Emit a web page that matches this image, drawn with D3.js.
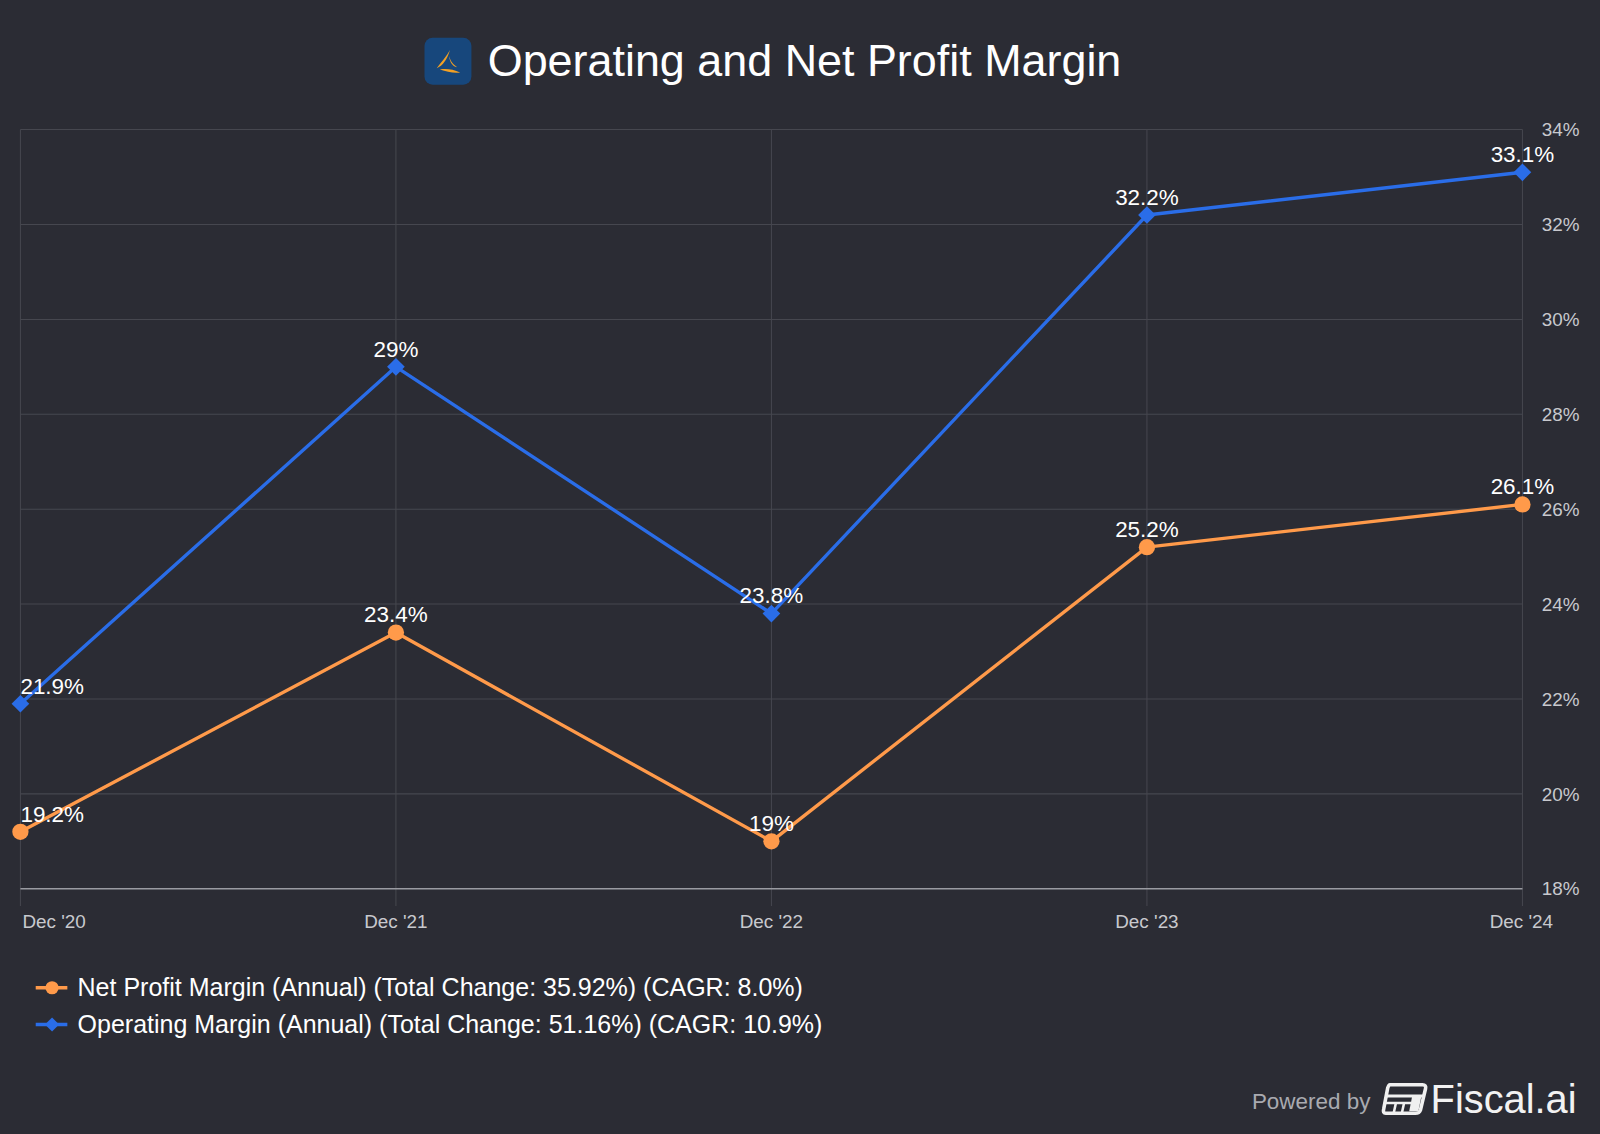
<!DOCTYPE html>
<html>
<head>
    <meta charset="utf-8" />
    <title>Operating and Net Profit Margin</title>
    <script src="https://d3js.org/d3.v7.min.js"></script>
    <style>
    body {
        margin: 0;
        background: #2b2c34;
        font-family: "Liberation Sans", Arial, sans-serif;
    }
    svg text { font-family: "Liberation Sans", Arial, sans-serif; }
    </style>
</head>
<body>
    <div id="chart"></div>
    <script>
        // data
        var periods = ["Dec '20", "Dec '21", "Dec '22", "Dec '23", "Dec '24"];
        var netMargin = [19.2, 23.4, 19.0, 25.2, 26.1];
        var opMargin = [21.9, 29.0, 23.8, 32.2, 33.1];
        var yTicks = [18, 20, 22, 24, 26, 28, 30, 32, 34];
        var legendLabels = [
            "Net Profit Margin (Annual) (Total Change: 35.92%) (CAGR: 8.0%)",
            "Operating Margin (Annual) (Total Change: 51.16%) (CAGR: 10.9%)"
        ];

        var W = 1600, H = 1134;
        var orange = "#ff9a4a", blue = "#2a6de8";

        var svg = d3.select("#chart").append("svg")
            .attr("width", W).attr("height", H);

        svg.append("rect").attr("width", W).attr("height", H).attr("fill", "#2b2c34");

        // layout was measured on a 1568 wide copy, so scale it up
        var root = svg.append("g").attr("transform", "scale(" + (1600 / 1568) + ")");

        var x = d3.scalePoint().domain(periods).range([20, 1492]);
        var y = d3.scaleLinear().domain([18, 34]).range([871, 127]);

        // title + logo
        var logo = root.append("g").attr("transform", "translate(416,37)");
        logo.append("rect").attr("width", 46).attr("height", 46).attr("rx", 8).attr("fill", "#17477c");
        logo.append("path")
            .attr("d", "M25,12 C22,18 16,24 12,30 C18,27 22,22 25,12 Z")
            .attr("fill", "#f2a024");
        logo.append("path")
            .attr("d", "M24,18 C26,24 28,26 32,29 C27,28 25,24 24,18 Z")
            .attr("fill", "#f2a024");
        logo.append("path")
            .attr("d", "M15,31 C22,30 28,31 35,34 C28,35 22,33 15,31 Z")
            .attr("fill", "#f2a024");

        root.append("text")
            .attr("x", 478).attr("y", 74)
            .attr("fill", "#ffffff")
            .attr("font-size", 44)
            .text("Operating and Net Profit Margin");

        // horizontal grid
        root.append("g").selectAll("line")
            .data(yTicks.slice(1))
            .join("line")
            .attr("x1", 20).attr("x2", 1492)
            .attr("y1", d => y(d)).attr("y2", d => y(d))
            .attr("stroke", "#46474f").attr("stroke-width", 1);

        // vertical grid
        root.append("g").selectAll("line")
            .data(periods)
            .join("line")
            .attr("x1", d => x(d)).attr("x2", d => x(d))
            .attr("y1", 127).attr("y2", 888)
            .attr("stroke", "#46474f").attr("stroke-width", 1);

        // x axis line
        root.append("line")
            .attr("x1", 20).attr("x2", 1492)
            .attr("y1", y(18)).attr("y2", y(18))
            .attr("stroke", "#9a9ba2").attr("stroke-width", 1.5);

        // x labels
        root.append("g").selectAll("text")
            .data(periods)
            .join("text")
            .attr("x", (d, i) => i === 0 ? 22 : i === periods.length - 1 ? 1522 : x(d))
            .attr("y", 909)
            .attr("text-anchor", (d, i) => i === 0 ? "start" : i === periods.length - 1 ? "end" : "middle")
            .attr("fill", "#c8c9ce")
            .attr("font-size", 18.5)
            .text(d => d);

        // right y labels
        root.append("g").selectAll("text")
            .data(yTicks)
            .join("text")
            .attr("x", 1548).attr("y", d => y(d) + 6.5)
            .attr("text-anchor", "end")
            .attr("fill", "#c8c9ce")
            .attr("font-size", 18.5)
            .text(d => d + "%");

        var line = d3.line()
            .x((d, i) => x(periods[i]))
            .y(d => y(d));

        var circleSym = d3.symbol().type(d3.symbolCircle).size(200);
        var diamondSym = d3.symbol().type(d3.symbolSquare).size(150);

        function drawSeries(vals, color, marker) {
            root.append("path")
                .datum(vals)
                .attr("d", line)
                .attr("fill", "none")
                .attr("stroke", color)
                .attr("stroke-width", 3.3)
                .attr("stroke-linejoin", "round");
            root.append("g").selectAll("path")
                .data(vals)
                .join("path")
                .attr("transform", (d, i) => "translate(" + x(periods[i]) + "," + y(d) + ")" +
                    (marker === "circle" ? "" : " rotate(45)"))
                .attr("d", marker === "circle" ? circleSym : diamondSym)
                .attr("fill", color);
        }

        drawSeries(netMargin, orange, "circle");
        drawSeries(opMargin, blue, "diamond");

        function drawLabels(vals) {
            root.append("g").selectAll("text")
                .data(vals)
                .join("text")
                .attr("x", (d, i) => i === 0 ? 20 : x(periods[i]))
                .attr("y", d => y(d) - 10)
                .attr("text-anchor", (d, i) => i === 0 ? "start" : "middle")
                .attr("fill", "#ffffff")
                .attr("font-size", 22)
                .text(d => d3.format("~g")(d) + "%");
        }
        drawLabels(netMargin);
        drawLabels(opMargin);

        // legend
        var legend = root.append("g");
        [[orange, "circle"], [blue, "diamond"]].forEach(function (s, i) {
            var ly = 968 + i * 36;
            legend.append("line")
                .attr("x1", 35).attr("x2", 66).attr("y1", ly).attr("y2", ly)
                .attr("stroke", s[0]).attr("stroke-width", 3.3);
            legend.append("path")
                .attr("transform", "translate(51," + ly + ")" + (s[1] === "circle" ? "" : " rotate(45)"))
                .attr("d", s[1] === "circle"
                    ? d3.symbol().type(d3.symbolCircle).size(130)
                    : d3.symbol().type(d3.symbolSquare).size(95))
                .attr("fill", s[0]);
            legend.append("text")
                .attr("x", 76).attr("y", ly + 8.5)
                .attr("fill", "#ffffff")
                .attr("font-size", 24.5)
                .text(legendLabels[i]);
        });

        // footer
        root.append("text")
            .attr("x", 1343).attr("y", 1087)
            .attr("text-anchor", "end")
            .attr("fill", "#a9aab0")
            .attr("font-size", 22)
            .text("Powered by");
        var fl = root.append("g").attr("transform", "translate(1355,1061)");
        fl.append("path")
            .attr("d", "M7,2 L39,2 Q43,2 42,6 L37,27 Q36,30 32,30 L3,30 Q0,30 1,26 L5,5 Q6,2 7,2 Z")
            .attr("fill", "none").attr("stroke", "#f0f0f0").attr("stroke-width", 3.5);
        fl.append("path").attr("d", "M4,13 L40,13").attr("stroke", "#f0f0f0").attr("stroke-width", 3);
        fl.append("path").attr("d", "M29,13 L38,13 L35,28 L26,28 Z").attr("fill", "#f0f0f0");
        fl.append("path").attr("d", "M3,20 L28,20 M13,20 L11,29 M21,20 L19,29").attr("stroke", "#f0f0f0").attr("stroke-width", 2.5);
        root.append("text")
            .attr("x", 1402).attr("y", 1091)
            .attr("fill", "#f2f2f2")
            .attr("font-size", 39)
            .attr("font-weight", 500)
            .attr("font-family", "Inter, 'Liberation Sans', sans-serif")
            .text("Fiscal.ai");
    </script>
</body>
</html>
